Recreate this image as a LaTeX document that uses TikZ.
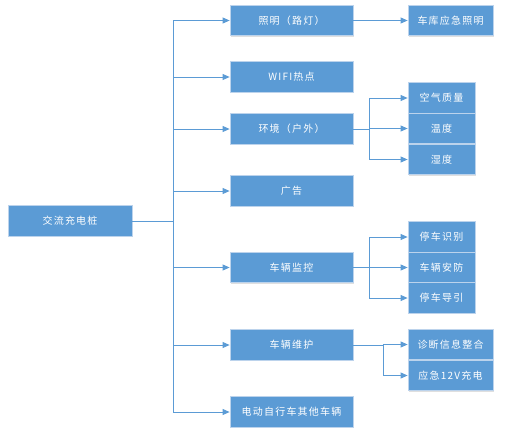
\documentclass[tikz,border=0pt]{standalone}
\usepackage{fontspec}
\newfontfamily\cjk[LetterSpace=12]{Noto Sans CJK SC}
\usetikzlibrary{arrows.meta}
\usetikzlibrary{shadows}
\usetikzlibrary{positioning}
\definecolor{boxblue}{HTML}{5B9BD5}
\definecolor{boxline}{HTML}{BCD3EC}
\definecolor{linkblue}{HTML}{5B9BD5}

\begin{document}
\begin{tikzpicture}[x=1pt,y=-1pt]
\tikzstyle{every node}=[font=\cjk\fontsize{10}{12}\selectfont]
\tikzstyle{item}=[rectangle,fill=boxblue,draw=boxline,line width=0.8pt,text=white,
  minimum height=30.5pt,inner sep=0pt,
  drop shadow={shadow xshift=0.8pt,shadow yshift=-0.8pt,opacity=0.25,fill=gray}]
\tikzstyle{mid}=[item,minimum width=123pt]
\tikzstyle{leaf}=[item,minimum width=67pt]
\tikzstyle{wide}=[item,minimum width=85pt]
\tikzstyle{arr}=[draw=linkblue,line width=0.8pt,-{Triangle[length=7pt,width=6pt]}]
\tikzstyle{link}=[draw=linkblue,line width=0.8pt]
\useasboundingbox (0,0) rectangle (510,437);

% Racine
\node[item,minimum width=124pt] (root) at (70,221) {交流充电桩};

% Colonne du milieu
\node[mid] (light) at (291.5,20.5) {照明（路灯）};
\node[mid] (wifi)  at (291.5,77)   {WIFI热点};
\node[mid] (env)   at (291.5,129)  {环境（户外）};
\node[mid] (ad)    at (291.5,191)  {广告};
\node[mid] (watch) at (291.5,267.5){车辆监控};
\node[mid] (care)  at (291.5,345)  {车辆维护};
\node[mid] (bike)  at (291.5,412)  {电动自行车其他车辆};

% Colonne de droite
\node[wide] (garage) at (450.5,20.5) {车库应急照明};
\node[leaf] (air)   at (441.5,98)    {空气质量};
\node[leaf] (temp)  at (441.5,128.5) {温度};
\node[leaf] (hum)   at (441.5,159.5) {湿度};
\node[leaf] (ident) at (441.5,237)   {停车识别};
\node[leaf] (guard) at (441.5,267.5) {车辆安防};
\node[leaf] (guide) at (441.5,298)   {停车导引};
\node[wide] (diag)  at (450.5,344.5) {诊断信息整合};
\node[wide] (charge) at (450.5,375.5) {应急12V充电};

% Tronc
\coordinate (trunk) at (173,0);
\draw[link] (root.east) -- (trunk |- root);
\draw[link] (trunk |- light) -- (trunk |- bike);
\foreach \n in {light,wifi,env,ad,watch,care,bike}{
	\draw[arr] (trunk |- \n) -- (\n.west);
}
\draw[arr] (light.east) -- (garage.west);

% Environnement
\coordinate (fork1) at (369,0);
\draw[link] (env.east) -- (fork1 |- env);
\draw[link] (fork1 |- air) -- (fork1 |- hum);
\foreach \n in {air,temp,hum}{
	\draw[arr] (fork1 |- \n) -- (\n.west);
}

% Surveillance
\draw[link] (watch.east) -- (fork1 |- watch);
\draw[link] (fork1 |- ident) -- (fork1 |- guide);
\foreach \n in {ident,guard,guide}{
	\draw[arr] (fork1 |- \n) -- (\n.west);
}

% Maintenance
\coordinate (fork2) at (383,0);
\draw[link] (care.east) -- (fork2 |- care);
\draw[link] (fork2 |- diag) -- (fork2 |- charge);
\foreach \n in {diag,charge}{
	\draw[arr] (fork2 |- \n) -- (\n.west);
}
\end{tikzpicture}
\end{document}
